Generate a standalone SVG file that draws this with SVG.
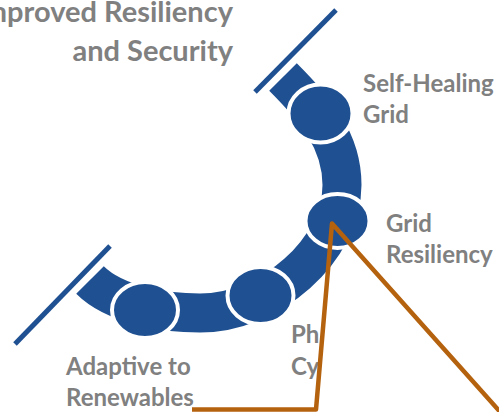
<svg xmlns="http://www.w3.org/2000/svg" width="499" height="412" viewBox="0 0 499 412">
<style>
.lbl{font-family:Lato,"Liberation Sans",sans-serif;font-weight:bold;font-size:24px;fill:#808080}
.big{font-size:29px}
.node{fill:#1F5091;stroke:#FFFFFF;stroke-width:4}
.bracket{stroke:#1F5091;stroke-width:5;fill:none}
</style>
<rect width="499" height="412" fill="#FFFFFF"/>
<g id="band">
<path d="M283,77 C315,109 342,140 342,185 C342,250 270,313 200,313 C165,313 115,305 90,280" fill="none" stroke="#1F5091" stroke-width="39"/>
<line class="bracket" x1="255" y1="92" x2="336" y2="10"/>
<line class="bracket" x1="15" y1="344" x2="110" y2="246"/>
</g>
<g id="node-selfhealing">
<ellipse class="node" cx="320.5" cy="113.5" rx="32" ry="29"/>
<text class="lbl" x="363" y="92">Self-Healing</text>
<text class="lbl" x="363" y="123">Grid</text>
</g>
<g id="node-gridresiliency">
<ellipse class="node" cx="337.5" cy="221" rx="32" ry="27"/>
<text class="lbl" x="386" y="232">Grid</text>
<text class="lbl" x="386" y="263">Resiliency</text>
</g>
<g id="node-physical">
<ellipse class="node" cx="260.5" cy="295.5" rx="33" ry="28.5"/>
<text class="lbl" x="291" y="343">Ph</text>
<text class="lbl" x="291" y="375">Cy</text>
</g>
<g id="node-adaptive">
<ellipse class="node" cx="145" cy="310" rx="33" ry="28"/>
<text class="lbl" x="66" y="375">Adaptive to</text>
<text class="lbl" x="66" y="406">Renewables</text>
</g>
<g id="node-improved">
<text class="lbl big" x="233" y="22" text-anchor="end">Improved Resiliency</text>
<text class="lbl big" x="233" y="61" text-anchor="end">and Security</text>
</g>
<g id="connectors">
<polyline points="192,409.5 316,409.5 332,223.5 502,414" fill="none" stroke="#B5620F" stroke-width="4.5" stroke-linejoin="round"/>
</g>
</svg>
